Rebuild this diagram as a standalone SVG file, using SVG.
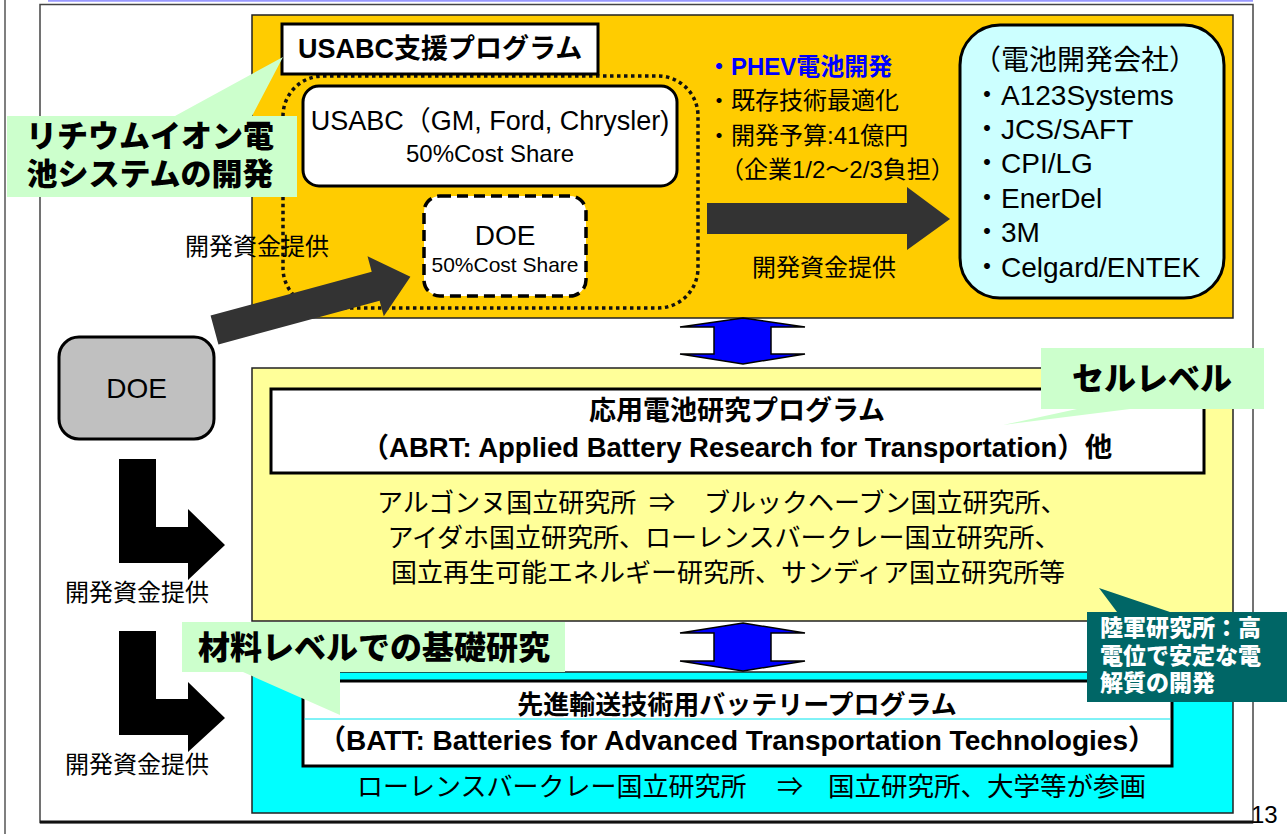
<svg xmlns="http://www.w3.org/2000/svg" width="1287" height="834" viewBox="0 0 1287 834">
<style>
text{font-family:"Liberation Sans","Noto Sans CJK JP",sans-serif;fill:#000}
.b{font-weight:bold}
.k{font-weight:900}
.c{text-anchor:middle}
.w{fill:#fff}
.blue{fill:#0000FF}
.box{stroke:#000;stroke-width:3}
.panel{stroke:#222;stroke-width:1.5}
.call{fill:#CCFFCC}
.dbl{fill:#0000FF;stroke:#000;stroke-width:1.5;stroke-linejoin:miter}
</style>
<rect width="1287" height="834" fill="#fff"/>
<g id="frame">
<line x1="5" y1="0" x2="5" y2="834" stroke="#555" stroke-width="1.5"/>
<line x1="48" y1="0.8" x2="1253" y2="0.8" stroke="#9999FF" stroke-width="2"/>
<rect x="40" y="4.5" width="1213" height="818" fill="none" stroke="#444" stroke-width="1.5"/>
<line x1="40" y1="822" x2="1253" y2="822" stroke="#111" stroke-width="3"/>
<text x="1251" y="823" font-size="24">13</text>
</g>
<g id="usabc-panel">
<rect x="252" y="15" width="981" height="303" fill="#FFCC00" class="panel"/>
<rect x="283" y="76" width="415" height="232" rx="40" fill="none" stroke="#111" stroke-width="3.5" stroke-dasharray="3.5 3.5"/>
</g>
<g id="usabc-title">
<rect x="282" y="24" width="316" height="50" fill="#fff" class="box"/>
<text x="298" y="58" font-size="27" class="b">USABC支援プログラム</text>
</g>
<g id="usabc">
<rect x="303" y="86" width="374" height="100" rx="16" fill="#fff" class="box"/>
<text x="490" y="130" font-size="27" class="c">USABC（GM, Ford, Chrysler)</text>
<text x="490" y="162" font-size="24" class="c">50%Cost Share</text>
</g>
<g id="doe-share">
<rect x="424" y="196" width="162" height="100" rx="16" fill="#fff" stroke="#000" stroke-width="3.5" stroke-dasharray="11 6"/>
<text x="505" y="245" font-size="28" class="c">DOE</text>
<text x="505" y="272" font-size="21" class="c">50%Cost Share</text>
</g>
<g id="phev">
<text x="707" y="75" font-size="24" class="b blue">・PHEV電池開発</text>
<text x="707" y="109" font-size="24">・既存技術最適化</text>
<text x="707" y="144" font-size="24">・開発予算:41億円</text>
<text x="720" y="178" font-size="24">（企業1/2～2/3負担）</text>
</g>
<g id="companies">
<rect x="960" y="25" width="264" height="273" rx="40" fill="#CCFFFF" class="box"/>
<text x="973" y="70" font-size="28">（電池開発会社）</text>
<text x="973" y="105" font-size="28">・A123Systems</text>
<text x="973" y="139" font-size="28">・JCS/SAFT</text>
<text x="973" y="173" font-size="28">・CPI/LG</text>
<text x="973" y="208" font-size="28">・EnerDel</text>
<text x="973" y="242" font-size="28">・3M</text>
<text x="973" y="277" font-size="28">・Celgard/ENTEK</text>
</g>
<g id="callout-liion">
<path d="M7,116 H175 L283,57 L252,116 H297 V197 H7 Z" class="call"/>
<text x="150" y="147" font-size="31" class="k c">リチウムイオン電</text>
<text x="150" y="185" font-size="31" class="k c">池システムの開発</text>
</g>
<g id="doe">
<rect x="59" y="337" width="155" height="102" rx="20" fill="#C0C0C0" class="box"/>
<text x="136.5" y="398" font-size="28" class="c">DOE</text>
</g>
<g id="abrt-panel">
<rect x="252" y="368" width="981" height="253" fill="#FFFF99" class="panel"/>
<rect x="271" y="389" width="933" height="84" fill="#fff" class="box"/>
<text x="737" y="420" font-size="27" class="b c">応用電池研究プログラム</text>
<text x="737" y="457" font-size="27.5" class="b c">（ABRT: Applied Battery Research for Transportation）他</text>
<text x="377" y="512" font-size="26">アルゴンヌ国立研究所</text>
<text x="662" y="512" font-size="26" class="c">⇒</text>
<text x="704" y="512" font-size="26">ブルックヘーブン国立研究所、</text>
<text x="724" y="547" font-size="26" class="c">アイダホ国立研究所、ローレンスバークレー国立研究所、</text>
<text x="728" y="582" font-size="26" class="c">国立再生可能エネルギー研究所、サンディア国立研究所等</text>
</g>
<g id="callout-cell">
<path d="M1041,348 H1264 V409 H1130 L1003,425 L1077,409 H1041 Z" class="call"/>
<text x="1152" y="390" font-size="32" class="k c">セルレベル</text>
</g>
<g id="batt-panel">
<rect x="252" y="672" width="981" height="141" fill="#00FFFF" class="panel"/>
<rect x="303" y="681" width="869" height="85" fill="#fff" class="box"/>
<line x1="304.5" y1="719" x2="1170.5" y2="719" stroke="#00E5EE" stroke-width="1"/>
<text x="737" y="714" font-size="26" class="b c">先進輸送技術用バッテリープログラム</text>
<text x="737" y="750" font-size="28" class="b c">（BATT: Batteries for Advanced Transportation Technologies）</text>
<text x="357" y="796" font-size="26">ローレンスバークレー国立研究所</text>
<text x="790" y="796" font-size="26" class="c">⇒</text>
<text x="828" y="796" font-size="26.5">国立研究所、大学等が参画</text>
</g>
<g id="callout-material">
<path d="M182,622 H565 V672 H340 V715 L243,672 H182 Z" class="call"/>
<text x="374" y="659" font-size="32" class="k c">材料レベルでの基礎研究</text>
</g>
<g id="callout-army">
<path d="M1087,612 H1117 L1099,588 L1170,612 H1287 V702 H1087 Z" fill="#006666"/>
<text x="1100" y="636" font-size="23" class="k w">陸軍研究所：高</text>
<text x="1100" y="664" font-size="23" class="k w">電位で安定な電</text>
<text x="1100" y="691" font-size="23" class="k w">解質の開発</text>
</g>
<g id="connectors">
<path d="M0,-15 H167 V-31 L203,0 L167,31 V15 H0 Z" fill="#333" transform="translate(214.5,330) rotate(-15.2)"/>
<text x="185" y="255" font-size="24">開発資金提供</text>
<path d="M707,203 H907 V187 L950,219 L907,250 V234 H707 Z" fill="#333"/>
<text x="752" y="276" font-size="24">開発資金提供</text>
<path d="M743,318 L805,327 H771 V354 H805 L743,364 L680,354 H714 V327 H680 Z" class="dbl"/>
<path d="M743,623 L805,633 H771 V661 H805 L743,671 L680,661 H714 V633 H680 Z" class="dbl"/>
<path d="M119,459 H156 V527 H188 V509 L225,545 L188,580 V563 H119 Z" fill="#000"/>
<text x="65" y="601" font-size="24">開発資金提供</text>
<path d="M119,631 H156 V699 H188 V682 L225,718 L188,752 V735 H119 Z" fill="#000"/>
<text x="65" y="773" font-size="24">開発資金提供</text>
</g>
</svg>
